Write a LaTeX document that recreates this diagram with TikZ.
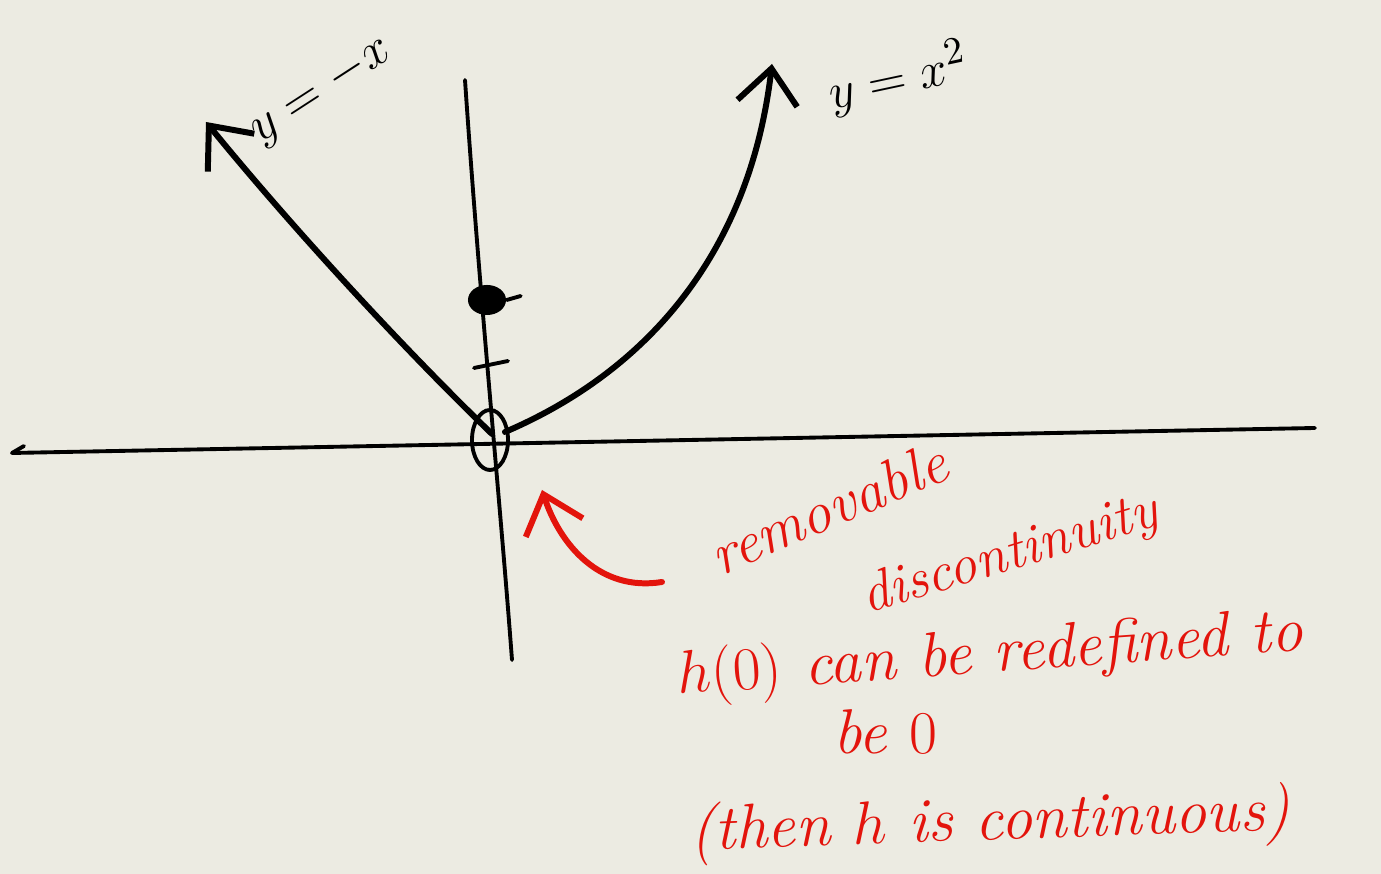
\documentclass[tikz,border=0pt]{standalone}
\usepackage{tikz}
\usetikzlibrary{arrows.meta,positioning,shapes.geometric}
\definecolor{paper}{HTML}{ECEBE2}
\definecolor{pen}{HTML}{E3140C}

\begin{document}
\begin{tikzpicture}[
    x=0.01cm, y=-0.01cm,
    axis/.style={line width=1.1pt, line cap=round},
    curve/.style={line width=1.7pt, line cap=round, -{Straight Barb[length=3.5mm, width=6mm, line width=1.7pt]}},
    note/.style={text=pen, font=\fontsize{18}{22}\selectfont\itshape, inner sep=1pt},
    lab/.style={font=\fontsize{15}{18}\selectfont}
]
\fill[paper] (0,0) rectangle (1381,874);
\useasboundingbox (0,0) rectangle (1381,874);

% axes
\draw[axis] (12,453) -- (1315,428);
\draw[axis] (12,453) -- (24,446);
\draw[axis] (465,80) .. controls (480,300) and (500,500) .. (512,660);

% points on the y-axis
\node[fill, ellipse, minimum width=0.38cm, minimum height=0.3cm, inner sep=0] (dot) at (487,300) {};
\draw[axis] (dot.east) -- ++(14,-4);
\draw[axis] (474,368) -- (508,361);
\node[draw, ellipse, line width=1.1pt, minimum width=0.36cm, minimum height=0.6cm, inner sep=0] (hole) at (490,440) {};

% the two pieces
\coordinate (left end) at (492,434);
\coordinate (right end) at (505,432);
\draw[curve] (left end) .. controls (400,345) and (290,225) .. (206,122);
\draw[curve] (right end) .. controls (650,370) and (750,250) .. (772,64);

\node[lab, rotate=33] (ylin) at (322,92) {$y=-x$};
\node[lab, rotate=12] (ysq) at (898,78) {$y=x^2$};

% annotation
\node[note, rotate=23, font=\fontsize{17}{20}\selectfont\itshape] (removable) at (828,508) {removable};
\node[note, rotate=17, font=\fontsize{16}{20}\selectfont\itshape] (discont) at (1010,556) {discontinuity};
\node[note, rotate=4] (redef) at (990,657) {$h(0)$ can be redefined to};
\node[note] (bezero) at (885,732) {be $0$};
\node[note, rotate=2] (cont) at (990,824) {(then $h$ is continuous)};

\coordinate (tail) at (662,582);
\coordinate (mark) at (542,490);
\draw[pen, curve] (tail) .. controls (600,592) and (560,545) .. (mark);
\end{tikzpicture}
\end{document}
